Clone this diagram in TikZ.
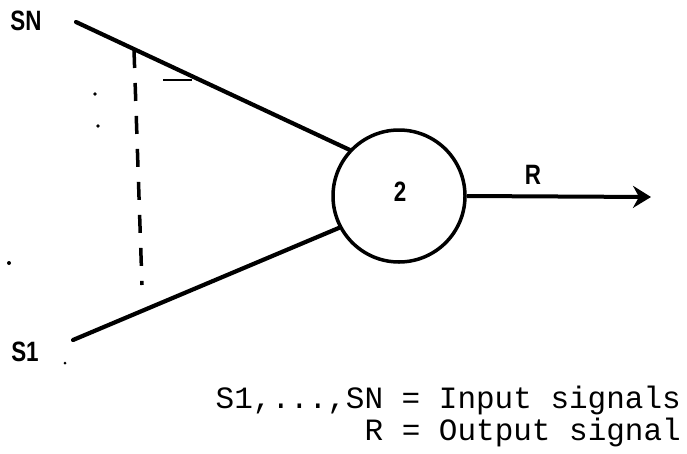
\documentclass[tikz,border=0pt]{standalone}
\usepackage{fontspec}
\setmainfont{Liberation Sans}
\newfontfamily\monofont{Liberation Mono}
\usetikzlibrary{arrows.meta}
\tikzset{
  wire/.style={line width=4.2pt, line cap=round},
  lbl/.style={font=\fontsize{28}{30}\selectfont\bfseries, inner sep=0pt, xscale=0.8, transform shape},
  dotmark/.style={fill=black, draw=none},
  legend/.style={font=\monofont\fontsize{31}{33}\selectfont, inner sep=0pt, anchor=base east},
}
\begin{document}
\begin{tikzpicture}[x=1pt,y=-1pt]
\useasboundingbox (0,0) rectangle (687,453);
\node[circle, draw, line width=3.5pt, minimum size=132pt, inner sep=0pt] (c) at (399,196) {};
\node[lbl] (two) at (400,192) {2};
\coordinate (sn) at (76,22);
\coordinate (s1) at (73,340);
\coordinate (out) at (651,197);
\draw[wire] (sn) -- (c.137);
\draw[wire] (s1) -- (c.208);
\draw[line width=4pt, -{Stealth[length=18pt, width=22pt, inset=6pt]}] (c.east) -- (out);
\node[lbl] (lsn) at (26,21) {SN};
\node[lbl] (ls1) at (25,352) {S1};
\node[lbl] (lr) at (533,175) {R};
% dashed arc of intermediate inputs
\coordinate (dtop) at (134,50);
\coordinate (dbot) at (142,285);
\draw[line width=3.5pt, dash pattern=on 18pt off 15pt] (dtop) -- (dbot);
\coordinate (tka) at (163,80);
\coordinate (tkb) at (192,80);
\draw[line width=2.6pt] (tka) -- (tkb);
\fill[dotmark] (95,94) circle (1.8pt);
\fill[dotmark] (98,126) circle (1.8pt);
\fill[dotmark] (9,263) circle (2pt);
\fill[dotmark] (65,363) circle (1.5pt);
\node[legend] (leg1) at (681,408) {S1,...,SN = Input signals};
\node[legend] (leg2) at (681,440) {R = Output signal};
\end{tikzpicture}
\end{document}
